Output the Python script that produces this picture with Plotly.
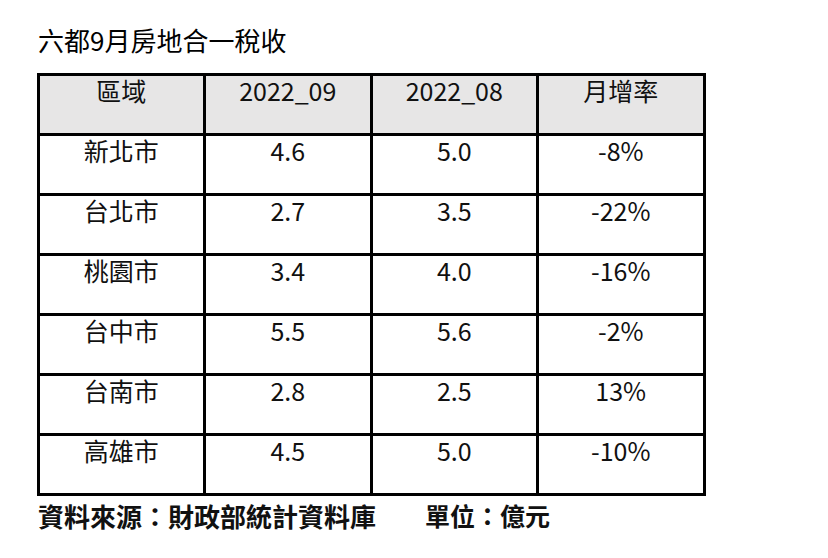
import plotly.graph_objects as go

# Table content
headers = ['區域', '2022_09', '2022_08', '月增率']
regions = ['新北市', '台北市', '桃園市', '台中市', '台南市', '高雄市']
tax_2022_09 = ['4.6', '2.7', '3.4', '5.5', '2.8', '4.5']
tax_2022_08 = ['5.0', '3.5', '4.0', '5.6', '2.5', '5.0']
monthly_change = ['-8%', '-22%', '-16%', '-2%', '13%', '-10%']

W, H = 828, 558
OFF = 8  # page body margin shifts the figure by 8px
font_name = 'Noto Sans CJK TC, Microsoft JhengHei, sans-serif'


def px_x(x):
    return (x - OFF) / W


def px_y(y):
    return 1 - (y - OFF) / H


fig = go.Figure()

fig.add_trace(go.Table(
    domain=dict(x=[px_x(38), px_x(705)], y=[0, px_y(74)]),
    columnwidth=[1, 1, 1, 1],
    header=dict(values=headers,
                fill_color='#e7e6e6',
                line=dict(color='black', width=3),
                align='center',
                height=60,
                font=dict(family=font_name, size=25, color='#111111')),
    cells=dict(values=[regions, tax_2022_09, tax_2022_08, monthly_change],
               fill_color='white',
               line=dict(color='black', width=3),
               align='center',
               height=60,
               font=dict(family=font_name, size=25, color='#111111')),
))

# Title and footer
fig.add_annotation(text='六都9月房地合一稅收', x=px_x(36), y=px_y(39),
                   xref='paper', yref='paper', xanchor='left', yanchor='middle',
                   showarrow=False,
                   font=dict(family=font_name, size=26, color='#000000'))
fig.add_annotation(text='<b>資料來源：財政部統計資料庫</b>',
                   x=px_x(36), y=px_y(515),
                   xref='paper', yref='paper', xanchor='left', yanchor='middle',
                   showarrow=False,
                   font=dict(family=font_name, size=26, color='#111111'))
fig.add_annotation(text='<b>單位：億元</b>',
                   x=px_x(423), y=px_y(515),
                   xref='paper', yref='paper', xanchor='left', yanchor='middle',
                   showarrow=False,
                   font=dict(family=font_name, size=25, color='#111111'))

fig.update_layout(width=W, height=H, margin=dict(l=0, r=0, t=0, b=0),
                  paper_bgcolor='white', plot_bgcolor='white')

fig.write_html('out.html')
